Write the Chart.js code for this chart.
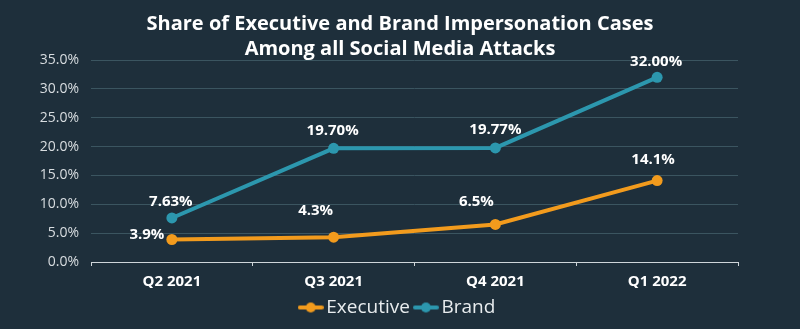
<!DOCTYPE html>
<html>
<head>
<meta charset="utf-8">
<script src="https://cdn.jsdelivr.net/npm/chart.js@4.4.0/dist/chart.umd.min.js"></script>
<style>
  html, body { margin: 0; padding: 0; background: #1e2f3b; }
  #wrap { width: 800px; height: 329px; }
</style>
</head>
<body>
<div id="wrap"><canvas id="grafico" width="800" height="329"></canvas></div>
<script>
// dati del grafico
const trimestri = ["Q2 2021", "Q3 2021", "Q4 2021", "Q1 2022"];
const executive = [3.9, 4.3, 6.5, 14.1];
const brand = [7.63, 19.70, 19.77, 32.00];
const etichetteExecutive = ["3.9%", "4.3%", "6.5%", "14.1%"];
const etichetteBrand = ["7.63%", "19.70%", "19.77%", "32.00%"];

const arancio = "#f29b1d";
const azzurro = "#2c97ae";

// spostamento delle etichette rispetto al punto [dx, dy]
const spostamentiExecutive = [[-25, -5], [-18, -26], [-19, -23], [-4, -21]];
const spostamentiBrand = [[-1, -16], [-1, -18], [0, -18], [-1, -16]];

function iconaLegenda(colore) {
  const c = document.createElement("canvas");
  c.width = 26;
  c.height = 12;
  const g = c.getContext("2d");
  g.strokeStyle = colore;
  g.lineWidth = 4;
  g.lineCap = "round";
  g.beginPath();
  g.moveTo(2, 6);
  g.lineTo(24, 6);
  g.stroke();
  g.fillStyle = colore;
  g.beginPath();
  g.arc(13, 6, 5, 0, Math.PI * 2);
  g.fill();
  return c;
}

const etichettePlugin = {
  id: "etichette",
  afterDatasetsDraw(chart) {
    const ctx = chart.ctx;
    ctx.save();
    ctx.font = "bold 15px 'Open Sans'";
    ctx.fillStyle = "#ffffff";
    ctx.textAlign = "center";
    ctx.textBaseline = "middle";
    chart.data.datasets.forEach(function (ds, i) {
      const meta = chart.getDatasetMeta(i);
      meta.data.forEach(function (pt, j) {
        const off = ds.spostamenti[j];
        ctx.fillText(ds.etichette[j], pt.x + off[0], pt.y + off[1]);
      });
    });
    ctx.restore();
  },
};

const ctx = document.getElementById("grafico").getContext("2d");

new Chart(ctx, {
  type: "line",
  data: {
    labels: trimestri,
    datasets: [
      {
        label: "Executive",
        data: executive,
        etichette: etichetteExecutive,
        spostamenti: spostamentiExecutive,
        borderColor: arancio,
        backgroundColor: arancio,
        borderWidth: 4,
        pointRadius: 5.5,
        pointBorderWidth: 0,
        pointStyle: "circle",
        tension: 0,
      },
      {
        label: "Brand",
        data: brand,
        etichette: etichetteBrand,
        spostamenti: spostamentiBrand,
        borderColor: azzurro,
        backgroundColor: azzurro,
        borderWidth: 4,
        pointRadius: 5.5,
        pointBorderWidth: 0,
        pointStyle: "circle",
        tension: 0,
      },
    ],
  },
  options: {
    responsive: false,
    animation: false,
    layout: { padding: { left: 0, right: 0, top: 0, bottom: 2 } },
    plugins: {
      title: {
        display: true,
        text: [
          "Share of Executive and Brand Impersonation Cases",
          "Among all Social Media Attacks",
        ],
        color: "#ffffff",
        font: { family: "'Open Sans'", size: 20, weight: "bold", lineHeight: 1.25 },
        padding: { top: 12, bottom: -2 },
      },
      legend: {
        position: "bottom",
        labels: {
          color: "#e8ecee",
          font: { family: "'Open Sans'", size: 19 },
          usePointStyle: true,
          pointStyleWidth: 12,
          padding: 10,
          generateLabels(chart) {
            return chart.data.datasets.map(function (ds, i) {
              return {
                text: ds.label,
                fillStyle: ds.borderColor,
                strokeStyle: ds.borderColor,
                fontColor: "#e8ecee",
                lineWidth: 0,
                pointStyle: iconaLegenda(ds.borderColor),
                datasetIndex: i,
                hidden: false,
              };
            });
          },
        },
      },
      tooltip: { enabled: false },
    },
    scales: {
      x: {
        offset: true,
        afterFit: function (scale) {
          // avvicina la legenda alle etichette dell'asse
          scale.height = scale.height - 10;
        },
        grid: {
          display: true,
          offset: true,
          drawOnChartArea: false,
          drawTicks: true,
          tickLength: 4,
          color: "#cfd6da",
        },
        border: { display: true, color: "#cfd6da", width: 1 },
        ticks: {
          color: "#ffffff",
          font: { family: "'Open Sans'", size: 15, weight: "bold" },
          padding: 7,
        },
      },
      y: {
        min: 0,
        max: 35,
        afterFit: function (scale) {
          scale.width = 91;
        },
        ticks: {
          stepSize: 5,
          color: "#d8dde0",
          font: { family: "'Open Sans'", size: 14 },
          padding: 12,
          callback: function (v) {
            return v.toFixed(1) + "%";
          },
        },
        grid: {
          color: "#3b5560",
          lineWidth: 1,
          drawTicks: false,
        },
        border: { display: false },
      },
      // asse vuoto a destra solo per lasciare margine
      destra: {
        type: "linear",
        position: "right",
        display: true,
        afterFit: function (scale) {
          scale.width = 62;
        },
        ticks: { display: false },
        grid: { display: false, drawTicks: false },
        border: { display: false },
      },
    },
  },
  plugins: [etichettePlugin],
});
</script>
</body>
</html>
